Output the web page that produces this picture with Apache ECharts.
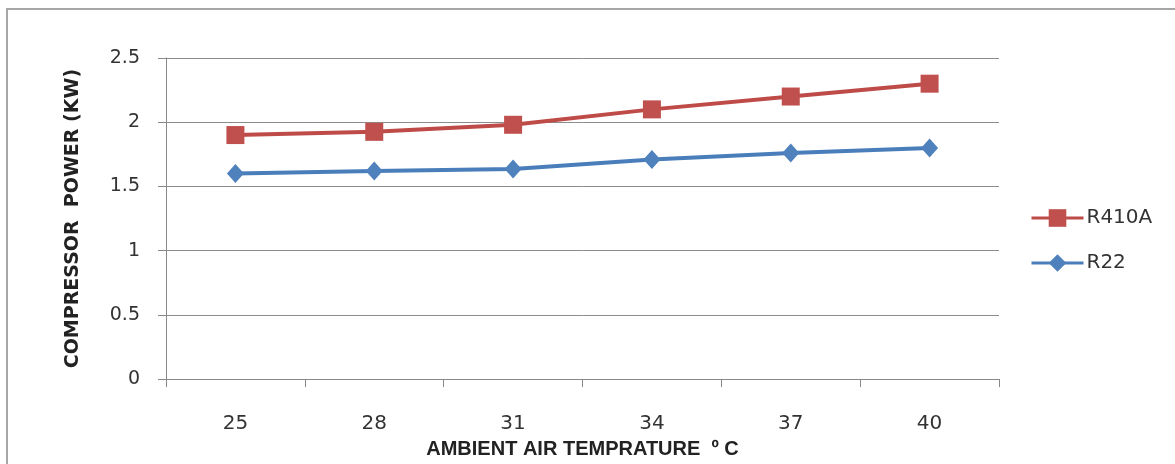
<!DOCTYPE html>
<html>
<head>
<meta charset="utf-8">
<script src="https://cdn.jsdelivr.net/npm/echarts@6/dist/echarts.min.js"></script>
<style>
html,body{margin:0;padding:0;background:#fff;}
#chart{width:1175px;height:464px;}
</style>
</head>
<body>
<div id="chart"></div>
<script>
const categories = ['25', '28', '31', '34', '37', '40'];
const r410a = [1.9, 1.925, 1.98, 2.1, 2.2, 2.3];
const r22 = [1.6, 1.62, 1.635, 1.71, 1.76, 1.8];
const yTicks = [0, 0.5, 1, 1.5, 2, 2.5];

const chart = echarts.init(document.getElementById('chart'), null, {renderer: 'canvas'});
chart.setOption({
  backgroundColor: '#ffffff',
  animation: false,
  graphic: [{
    type: 'rect',
    shape: {x: 7, y: 9, width: 1200, height: 500},
    style: {fill: 'none', stroke: '#a6a6a6', lineWidth: 2},
    z: 0
  }],
  grid: {left: 166, right: 176, top: 58, bottom: 84, containLabel: false},
  legend: {
    orient: 'vertical',
    left: 1025,
    top: 203,
    itemWidth: 52,
    itemHeight: 22,
    itemGap: 25,
    lineStyle: {width: 3},
    textStyle: {fontFamily: 'DejaVu Sans', fontSize: 20, color: '#333', padding: [0, 0, 0, -2]},
    data: ['R410A', 'R22']
  },
  xAxis: {
    type: 'category',
    data: categories,
    boundaryGap: true,
    name: 'AMBIENT AIR TEMPRATURE  º C',
    nameLocation: 'middle',
    nameGap: 58,
    nameTextStyle: {fontFamily: 'Liberation Sans', fontWeight: 'bold', fontSize: 20, color: '#222'},
    axisLine: {lineStyle: {color: '#888888', width: 1}},
    axisTick: {show: true, interval: 0, length: 8, lineStyle: {color: '#888888'}},
    axisLabel: {margin: 35, fontFamily: 'DejaVu Sans', fontSize: 20, color: '#333'},
    splitLine: {show: false}
  },
  yAxis: {
    type: 'value',
    min: yTicks[0],
    max: yTicks[yTicks.length - 1],
    interval: 0.5,
    name: 'COMPRESSOR  POWER (KW)',
    nameLocation: 'middle',
    nameGap: 83,
    nameTextStyle: {fontFamily: 'DejaVu Sans', fontWeight: 'bold', fontSize: 19, color: '#222'},
    axisLine: {show: true, lineStyle: {color: '#888888', width: 1}},
    axisTick: {show: true, length: 8, lineStyle: {color: '#888888'}},
    axisLabel: {margin: 26, fontFamily: 'DejaVu Sans', fontSize: 19, color: '#333'},
    splitLine: {show: true, lineStyle: {color: '#8c8c8c', width: 1}}
  },
  series: [
    {
      name: 'R410A',
      type: 'line',
      data: r410a,
      symbol: 'rect',
      symbolSize: 18,
      lineStyle: {color: '#be4b48', width: 4},
      itemStyle: {color: '#c0504d'}
    },
    {
      name: 'R22',
      type: 'line',
      data: r22,
      symbol: 'diamond',
      symbolSize: [17, 19],
      lineStyle: {color: '#4a7ebb', width: 4},
      itemStyle: {color: '#4f81bd'}
    }
  ]
});
</script>
</body>
</html>
